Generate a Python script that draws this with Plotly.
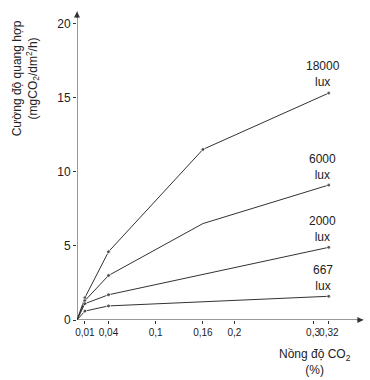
import plotly.graph_objects as go

# CO2 concentration (%)
x_full = [0, 0.01, 0.04, 0.16, 0.32]
x_short = [0, 0.01, 0.04, 0.32]

y_18000 = [0, 1.5, 4.6, 11.5, 15.3]
y_6000 = [0, 1.3, 3.0, 6.5, 9.1]
y_2000 = [0, 1.1, 1.7, 4.9]
y_667 = [0, 0.6, 0.95, 1.6]

series_labels = ["18000<br>lux", "6000<br>lux", "2000<br>lux", "667<br>lux"]
label_y = [16.6, 10.3, 6.15, 2.85]

xtick_vals = [0.01, 0.04, 0.1, 0.16, 0.2, 0.3, 0.32]
xtick_text = ["0,01", "0,04", "0,1", "0,16", "0,2", "0,3", "0,32"]
ytick_vals = [0, 5, 10, 15, 20]

line_color = "#333333"
font_family = "Liberation Sans, Arial, sans-serif"

fig = go.Figure()

def add(xs, ys, sizes):
    fig.add_trace(go.Scatter(
        x=xs, y=ys, mode="lines+markers",
        line=dict(color=line_color, width=1),
        marker=dict(color=line_color, size=sizes),
        showlegend=False, hoverinfo="skip", cliponaxis=False))

add(x_full, y_18000, [0, 4, 4, 4, 4])
add(x_full, y_6000, [0, 4, 4, 0, 4])
add(x_short, y_2000, [0, 4, 4, 4])
add(x_short, y_667, [0, 4, 4, 4])

for txt, yy in zip(series_labels, label_y):
    fig.add_annotation(x=0.312, y=yy, xref="x", yref="y", text=txt,
                       showarrow=False, font=dict(size=12, color="#222"),
                       align="center")

# axis lines with arrowheads
fig.add_shape(type="line", xref="x", yref="y", x0=0, y0=0, x1=0.364, y1=0,
              line=dict(color=line_color, width=1))
fig.add_shape(type="line", xref="x", yref="y", x0=0, y0=0, x1=0, y1=20.8,
              line=dict(color=line_color, width=1))
fig.add_annotation(x=0.364, y=0, ax=-8, ay=0, xref="x", yref="y",
                   text="", showarrow=True, arrowhead=2, arrowsize=1.2, arrowwidth=1,
                   arrowcolor=line_color)
fig.add_annotation(x=0, y=20.8, ax=0, ay=8, xref="x", yref="y",
                   text="", showarrow=True, arrowhead=2, arrowsize=1.2, arrowwidth=1,
                   arrowcolor=line_color)

# axis titles
fig.add_annotation(xref="paper", yref="paper", x=-0.18, y=0.78,
                   xanchor="center", yanchor="middle",
                   text="Cường độ quang hợp<br>(mgCO<sub>2</sub>/dm<sup>2</sup>/h)",
                   textangle=-90, showarrow=False, font=dict(size=12, color="#222"),
                   align="center")
fig.add_annotation(xref="paper", yref="paper", x=0.826, y=-0.135,
                   xanchor="center", yanchor="middle",
                   text="Nồng độ CO<sub>2</sub><br>(%)",
                   showarrow=False, font=dict(size=12, color="#222"),
                   align="center")

fig.update_layout(
    width=370, height=380,
    margin=dict(l=77, r=5, t=10, b=60),
    paper_bgcolor="white", plot_bgcolor="white",
    font=dict(family=font_family, size=12, color="#222"),
)
fig.update_xaxes(range=[0, 0.366], tickvals=xtick_vals, ticktext=xtick_text,
                 showgrid=False, zeroline=False, showline=False,
                 ticks="outside", ticklen=3, tickcolor=line_color,
                 tickangle=0, automargin=False,
                 tickfont=dict(size=10, family="Liberation Sans Narrow, Liberation Sans, Arial, sans-serif"))
fig.update_yaxes(range=[0, 20.9], tickvals=ytick_vals,
                 showgrid=False, zeroline=False, showline=False,
                 ticks="outside", ticklen=3, tickcolor=line_color,
                 automargin=False,
                 tickfont=dict(size=12))

fig.write_html("out.html", config={"displayModeBar": False},
               post_script="document.body.style.margin='0';")
